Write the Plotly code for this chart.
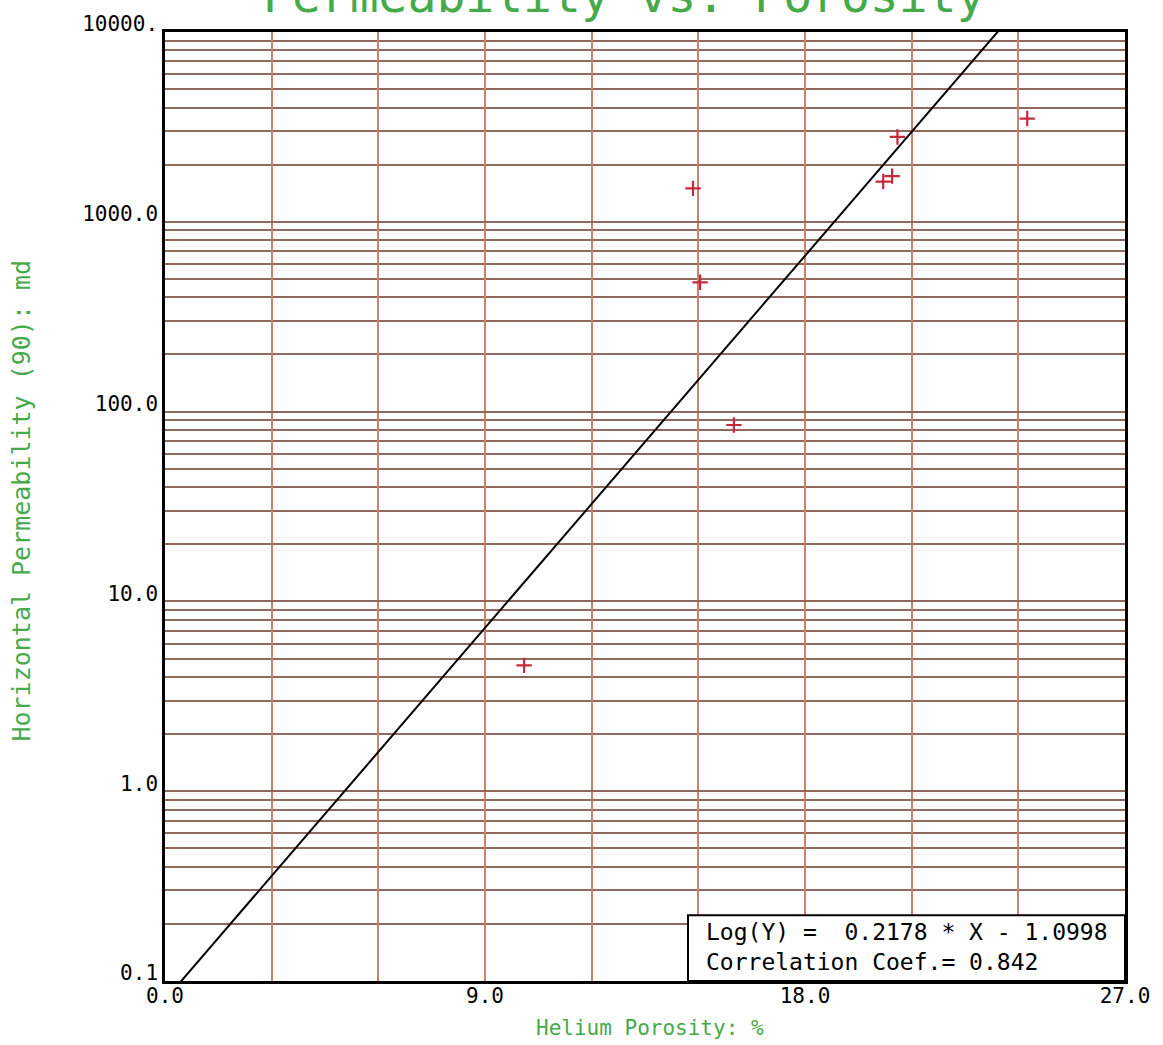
import plotly.graph_objects as go

# ---- data ----
porosity = [10.1, 14.85, 15.05, 16.0, 20.2, 20.45, 20.6, 24.25]
permeability = [4.6, 1500, 480, 85, 1630, 1740, 2800, 3500]

# regression shown on chart: Log(Y) = a*X + b
fit_slope = 0.2178
fit_intercept = -1.0998
fit_x = [0.0, 27.0]

x_tickvals = [0, 3, 6, 9, 12, 15, 18, 21, 24, 27]
x_ticktext = ["0.0", "", "", "9.0", "", "", "18.0", "", "", "27.0"]
y_tickvals = [0.1, 1, 10, 100, 1000, 10000]
y_ticktext = ["0.1", "1.0", "10.0", "100.0", "1000.0", "10000."]
y_minor = [m * 10 ** d for d in range(-1, 4) for m in range(2, 10)]

fit_y = [10 ** (fit_slope * x + fit_intercept) for x in fit_x]

MONO = "DejaVu Sans Mono"
GREEN = "rgb(70,170,75)"
HGRID = "rgb(145,105,92)"
VGRID = "rgb(205,128,108)"

fig = go.Figure()
fig.add_trace(go.Scatter(x=fit_x, y=fit_y, mode="lines",
                         line=dict(color="black", width=2), hoverinfo="skip"))
fig.add_trace(go.Scatter(x=porosity, y=permeability, mode="markers",
                         marker=dict(symbol="cross-thin", size=11,
                                     line=dict(color="rgb(200,40,60)", width=2.2))))

fig.update_layout(
    width=1163, height=1045, autosize=False,
    margin=dict(l=165, r=38, t=27, b=64),
    paper_bgcolor="white", plot_bgcolor="white",
    showlegend=False,
    font=dict(family=MONO, color="black", size=21),
)
fig.update_xaxes(
    range=[0, 27], tickvals=x_tickvals, ticktext=x_ticktext,
    showgrid=True, gridcolor=VGRID, gridwidth=1.5,
    showline=True, linecolor="black", linewidth=2.5, mirror=True,
    zeroline=False, ticks="", ticklabelstandoff=-6,
    tickfont=dict(family=MONO, size=21, color="black"),
)
fig.update_yaxes(
    type="log", range=[-1, 4], tickvals=y_tickvals, ticktext=y_ticktext,
    showgrid=True, gridcolor=HGRID, gridwidth=1.6,
    minor=dict(tickvals=y_minor, showgrid=True, gridcolor=HGRID, gridwidth=1.6, ticks=""),
    showline=True, linecolor="black", linewidth=2.5, mirror=True,
    zeroline=False, ticks="", ticklabelshift=-8,
    tickfont=dict(family=MONO, size=21, color="black"),
)

# legend / equation box
fig.add_shape(type="rect", xref="paper", yref="paper",
              x0=0.5448, x1=1.0, y0=0.0, y1=0.0692,
              fillcolor="white", line=dict(color="black", width=2), layer="above")
fig.add_annotation(xref="paper", yref="paper", x=0.5615, y=0.0355,
                   xanchor="left", yanchor="middle", showarrow=False, align="left",
                   text="Log(Y) =  0.2178 * X - 1.0998<br>Correlation Coef.= 0.842",
                   font=dict(family=MONO, size=23, color="black"))

# titles
fig.add_annotation(xref="paper", yref="paper", x=(624 - 165) / 960, y=1.039,
                   xanchor="center", yanchor="middle", showarrow=False,
                   text="Permeability vs. Porosity",
                   font=dict(family=MONO, size=48, color=GREEN))
fig.add_annotation(xref="paper", yref="paper", x=(650 - 165) / 960, y=-0.0493,
                   xanchor="center", yanchor="middle", showarrow=False,
                   text="Helium Porosity: %",
                   font=dict(family=MONO, size=21, color=GREEN))
fig.add_annotation(xref="paper", yref="paper", x=(22 - 165) / 960, y=(981 - 498) / 954,
                   xanchor="center", yanchor="middle", showarrow=False, textangle=-90,
                   text="Horizontal Permeability (90): md",
                   font=dict(family=MONO, size=25, color=GREEN))

fig.write_html("out.html",
               config={"displayModeBar": False},
               post_script="document.body.style.margin='0';document.body.style.overflow='hidden';")
